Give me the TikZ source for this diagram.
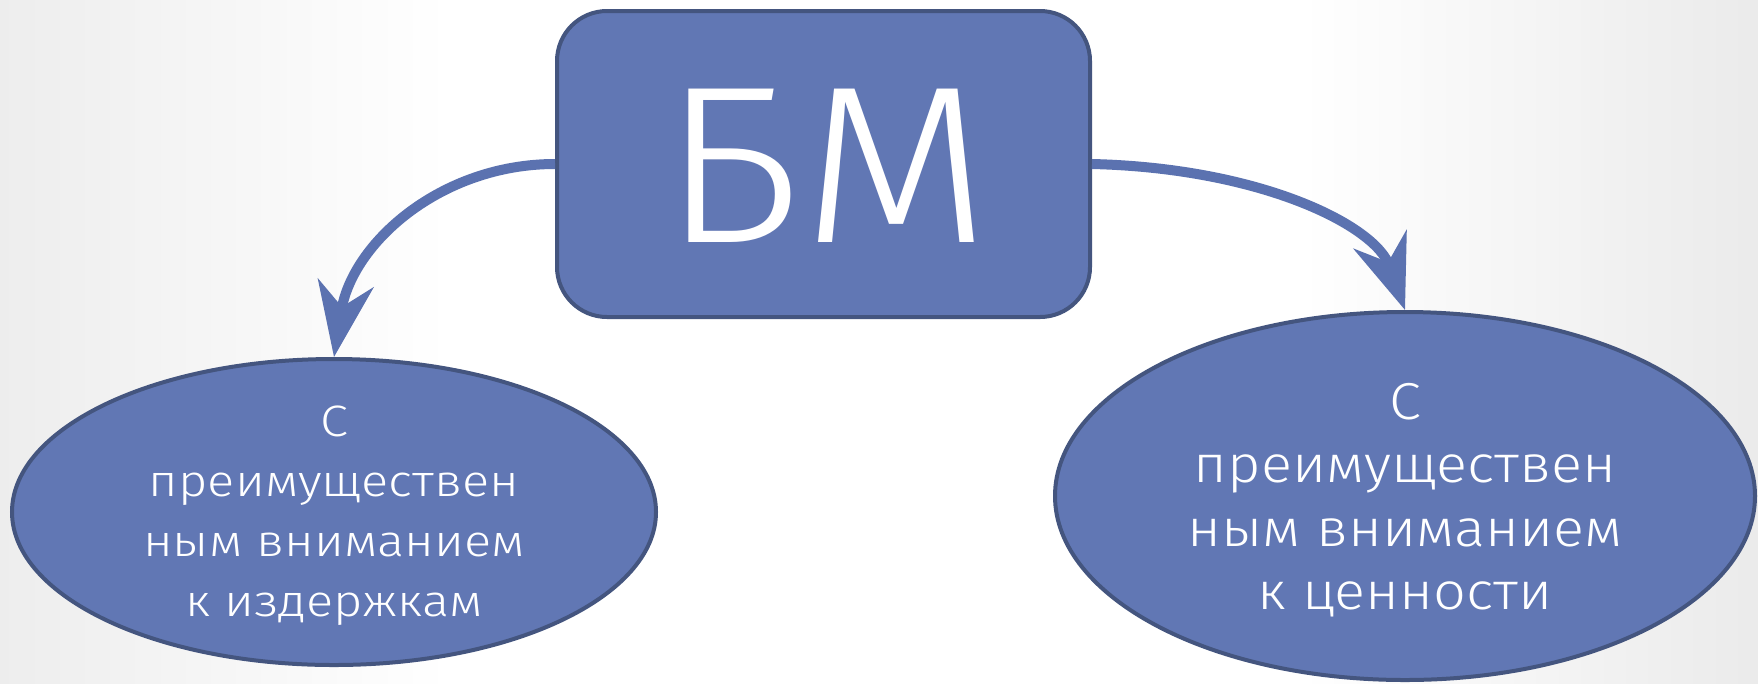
\documentclass[tikz,border=0pt]{standalone}
\usepackage{fontspec}
\setmainfont{Fira Sans}[UprightFont={* Light}]
\usetikzlibrary{arrows.meta,shapes.geometric}
\definecolor{boxfill}{RGB}{97,119,180}
\definecolor{boxline}{RGB}{68,85,127}
\definecolor{arrowcol}{RGB}{91,114,176}
\tikzset{
  bmbox/.style={draw=boxline, line width=3pt, fill=boxfill, rounded corners=37.5pt,
    minimum width=399.75pt, minimum height=229.5pt, inner sep=0pt},
  oval/.style={draw=boxline, line width=3pt, fill=boxfill, ellipse, inner sep=0pt},
  ovaltext/.style={text=white, align=center, inner sep=0pt},
  bigarrow/.style={draw=arrowcol, line width=7.5pt,
    -{Stealth[length=56pt, width=42pt, inset=18pt, fill=arrowcol]}}
}
\begin{document}
\begin{tikzpicture}[x=0.75pt,y=0.75pt]
\useasboundingbox (0,0) rectangle (1758,-683);
\fill[white] (0,0) rectangle (1758,-683);
\shade[left color=black!7, right color=white] (0,0) rectangle (450,-683);
\shade[left color=white, right color=black!8] (1300,0) rectangle (1758,-683);

\node[bmbox] (bm) at (823.5,-164) {};
\node[text=white, inner sep=0pt, font=\fontsize{168pt}{190pt}\selectfont\addfontfeatures{FakeStretch=1.1}] (bmt) at (826,-166) {БМ};

\node[oval, minimum width=483pt, minimum height=229.5pt] (L) at (334,-512) {};
\node[ovaltext, font=\fontsize{33pt}{45pt}\selectfont\addfontfeatures{FakeStretch=1.15}] (Lt) at (334,-516)
  {С\\преимуществен\\ным вниманием\\к издержкам};

\node[oval, minimum width=525pt, minimum height=276pt] (R) at (1405,-496) {};
\node[ovaltext, font=\fontsize{39pt}{47.5pt}\selectfont\addfontfeatures{FakeStretch=1.11}] (Rt) at (1405,-500)
  {С\\преимуществен\\ным вниманием\\к ценности};

\draw[bigarrow] (bm.west) to[out=180, in=81] (L.north);
\draw[bigarrow] (bm.east) .. controls (1260,-168) and (1375,-225) .. (R.north);
\end{tikzpicture}
\end{document}
